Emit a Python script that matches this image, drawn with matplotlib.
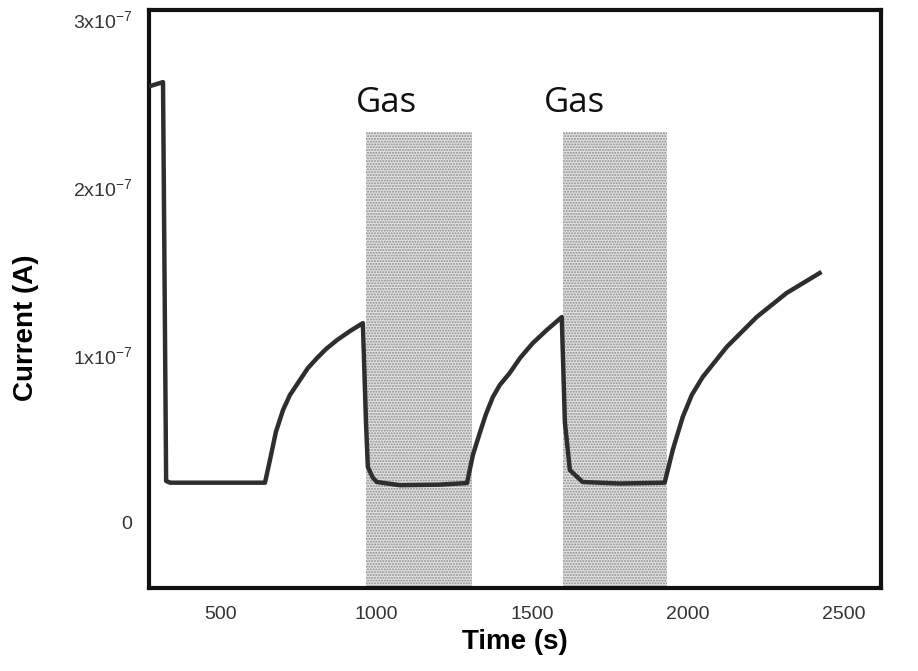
import matplotlib
matplotlib.use("Agg")
import matplotlib.pyplot as plt
from matplotlib.ticker import FixedLocator, FuncFormatter

plt.rcParams["font.family"] = ["Liberation Sans", "DejaVu Sans"]
plt.rcParams["mathtext.default"] = "regular"

# current trace (time in s, current in units of 1e-7 A)
time_s = [273, 317, 327, 340, 644,
          660, 679, 702, 724, 756, 782, 811, 840, 875, 917, 958,
          968, 974, 990, 1003, 1077, 1200, 1292,
          1311, 1333, 1353, 1375, 1397, 1429, 1462, 1503, 1548, 1596,
          1606, 1622, 1663, 1782, 1926,
          1952, 1984, 2013, 2048, 2125, 2221, 2317, 2423]
current_e7 = [2.60, 2.625, 0.25, 0.24, 0.24,
              0.375, 0.542, 0.673, 0.762, 0.851, 0.923, 0.982, 1.036, 1.089, 1.143, 1.190,
              0.60, 0.333, 0.27, 0.244, 0.225, 0.228, 0.238,
              0.405, 0.536, 0.649, 0.750, 0.821, 0.893, 0.982, 1.071, 1.149, 1.226,
              0.60, 0.315, 0.244, 0.235, 0.240,
              0.435, 0.631, 0.762, 0.869, 1.048, 1.226, 1.369, 1.488]

# gas exposure windows
gas_on = [968, 1599]
gas_off = [1308, 1933]
gas_top = 2.327e-7
gas_label_x = [1035, 1638]
gas_label_y = 2.446e-7

x_ticks = [500, 1000, 1500, 2000, 2500]
y_ticks = [0, 1e-7, 2e-7, 3e-7]

current = [c * 1e-7 for c in current_e7]

fig = plt.figure(figsize=(9.18, 6.71), dpi=100)
ax = fig.add_axes([0.1623, 0.1237, 0.7974, 0.8613])

for x0, x1 in zip(gas_on, gas_off):
    ax.fill_between([x0, x1], [-1e-6, -1e-6], [gas_top, gas_top],
                    facecolor="#e4e4e4", edgecolor="#8a8a8a", hatch="......",
                    linewidth=0, zorder=1)

ax.plot(time_s, current, color="#2e2e2e", linewidth=3.2,
        solid_joinstyle="round", zorder=3)

for gx in gas_label_x:
    ax.text(gx, gas_label_y, "Gas", ha="center", va="baseline",
            fontsize=25, family=["Open Sans", "DejaVu Sans"], color="#111111")

ax.set_xlim(272, 2620)
ax.set_ylim(-0.387e-7, 3.054e-7)

ax.xaxis.set_major_locator(FixedLocator(x_ticks))
ax.yaxis.set_major_locator(FixedLocator(y_ticks))


def fmt_y(v, pos):
    n = int(round(v / 1e-7))
    if n == 0:
        return "0"
    return r"$%dx10^{-7}$" % n


ax.yaxis.set_major_formatter(FuncFormatter(fmt_y))
ax.tick_params(length=0, labelsize=14, labelcolor="#333333")
ax.tick_params(axis="x", pad=13)
ax.tick_params(axis="y", pad=12)

for sp in ax.spines.values():
    sp.set_linewidth(3)
    sp.set_color("#111111")

ax.set_xlabel("Time (s)", fontsize=20, fontweight="bold", labelpad=4)
ax.set_ylabel("Current (A)", fontsize=20, fontweight="bold")
ax.yaxis.set_label_coords(-0.150, 0.45)

fig.savefig("out.png", dpi=100)
